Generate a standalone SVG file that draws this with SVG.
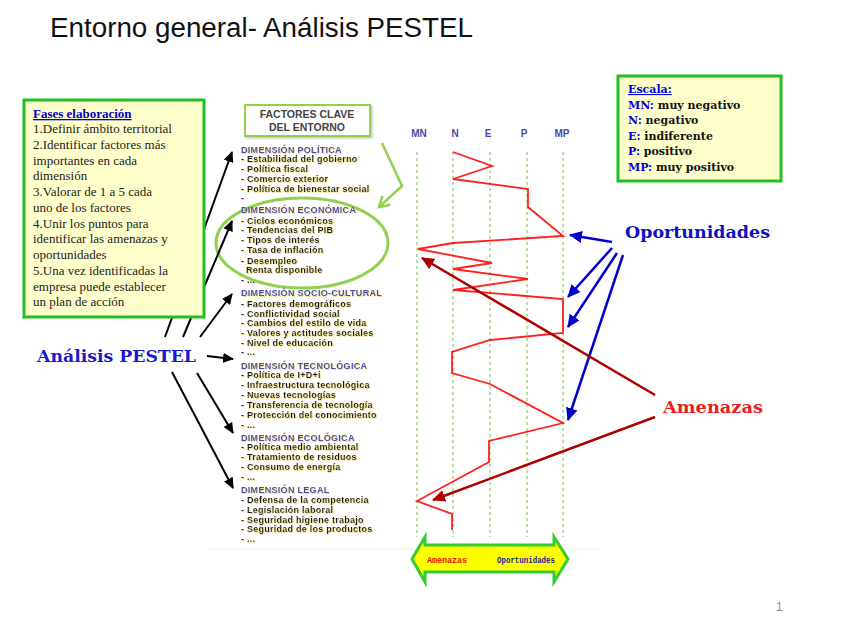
<svg xmlns="http://www.w3.org/2000/svg" width="848" height="636" viewBox="0 0 848 636">
<style>
.title{font-family:"Liberation Sans",Arial,sans-serif;font-size:27px;fill:#111}
.fases{font-family:"Liberation Serif","Times New Roman",serif;font-size:13px;fill:#222}
.fh{font-weight:bold;fill:#0000cc;text-decoration:underline}
.esc{font-family:"DejaVu Serif",serif;font-size:11px;font-weight:bold;fill:#111}
.escb{fill:#0000dd}
.dim{font-family:"Liberation Sans",Arial,sans-serif;font-size:9px;letter-spacing:0.3px;font-weight:bold;fill:#4a4aa8;filter:url(#glow)}
.it{font-family:"Liberation Sans",Arial,sans-serif;font-size:9px;letter-spacing:0.25px;font-weight:bold;fill:#1a1a1a;filter:url(#glow)}
.col{font-family:"Liberation Sans",Arial,sans-serif;font-size:10px;font-weight:bold;fill:#4a4aa8;text-anchor:middle}
.big{font-family:"DejaVu Serif",serif;font-weight:bold;font-size:17px}
.grid{stroke:#a9d18e;stroke-width:1.5;stroke-dasharray:3 3;fill:none}
.blk{stroke:#000;stroke-width:2;fill:none;marker-end:url(#hb)}
.blu{stroke:#0000cc;stroke-width:2.5;fill:none;marker-end:url(#hu)}
.drd{stroke:#b00000;stroke-width:2.5;fill:none;marker-end:url(#hr)}
.small{font-family:"Liberation Mono","Courier New",monospace;font-size:9px;font-weight:bold}
</style>
<defs>
<filter id="glow" x="-5%" y="-30%" width="110%" height="160%">
<feDropShadow dx="0.8" dy="0.8" stdDeviation="0.5" flood-color="#e6d46a" flood-opacity="0.9"/>
</filter>
<filter id="sh" x="-10%" y="-10%" width="120%" height="130%">
<feDropShadow dx="1.5" dy="1.5" stdDeviation="1" flood-color="#999" flood-opacity="0.6"/>
</filter>
<marker id="hb" markerUnits="userSpaceOnUse" markerWidth="12" markerHeight="10" refX="10" refY="5" orient="auto"><path d="M0,0 L11,5 L0,10 Z" fill="#000"/></marker>
<marker id="hu" markerUnits="userSpaceOnUse" markerWidth="14" markerHeight="12" refX="12" refY="6" orient="auto"><path d="M0,0 L13,6 L0,12 Z" fill="#0000cc"/></marker>
<marker id="hr" markerUnits="userSpaceOnUse" markerWidth="14" markerHeight="12" refX="12" refY="6" orient="auto"><path d="M0,0 L13,6 L0,12 Z" fill="#b00000"/></marker>
<marker id="hg" markerUnits="userSpaceOnUse" markerWidth="14" markerHeight="14" refX="11" refY="7" orient="auto"><path d="M1,1 L11,7 L1,13" fill="none" stroke="#92d050" stroke-width="2.5"/></marker>
</defs>
<rect width="848" height="636" fill="#fff"/>
<text class="title" x="50" y="37" textLength="423" lengthAdjust="spacingAndGlyphs">Entorno general- Análisis PESTEL</text>

<line x1="210" y1="549" x2="600" y2="549" stroke="#f3efd2" stroke-width="1"/>

<g id="grid">
<line class="grid" x1="417" y1="152" x2="417" y2="537"/>
<line class="grid" x1="453" y1="152" x2="453" y2="537"/>
<line class="grid" x1="490" y1="152" x2="490" y2="537"/>
<line class="grid" x1="527" y1="152" x2="527" y2="537"/>
<line class="grid" x1="563" y1="152" x2="563" y2="537"/>
<text class="col" x="419" y="137">MN</text>
<text class="col" x="455" y="137">N</text>
<text class="col" x="488" y="137">E</text>
<text class="col" x="524" y="137">P</text>
<text class="col" x="562" y="137">MP</text>
</g>

<g id="profile">
<polyline fill="none" stroke="#ff2020" stroke-width="1.8" stroke-linejoin="miter" points="453,152 492,166 453,179 528,189 528,207 563,236 453,243 418,249 492,263 453,269 528,279 453,290 563,299 563,333 490,340 452,352 452,373 490,384 563,423 489,441 489,462 417,501 452,514 452,530"/>
</g>

<g id="factores-clave">
<rect x="245" y="105" width="125" height="31" fill="#fff" stroke="#92d050" stroke-width="2" filter="url(#sh)"/>
<text x="307" y="118" text-anchor="middle" font-family="Liberation Sans,Arial,sans-serif" font-size="10.5" font-weight="bold" fill="#444">FACTORES CLAVE</text>
<text x="307" y="131" text-anchor="middle" font-family="Liberation Sans,Arial,sans-serif" font-size="10.5" font-weight="bold" fill="#444">DEL ENTORNO</text>
</g>

<g id="economica-ellipse">
<ellipse cx="302" cy="243" rx="86" ry="45" fill="none" stroke="#92d050" stroke-width="3"/>
</g>

<g id="dimensiones">
<text class="dim" x="241" y="153">DIMENSIÓN POLÍTICA</text>
<text class="it" x="241" y="162">- Estabilidad del gobierno</text>
<text class="it" x="241" y="172">- Política fiscal</text>
<text class="it" x="241" y="182">- Comercio exterior</text>
<text class="it" x="241" y="192">- Política de bienestar social</text>
<text class="it" x="241" y="201">-</text>
<text class="dim" x="241" y="213">DIMENSIÓN ECONÓMICA</text>
<text class="it" x="241" y="224">- Ciclos económicos</text>
<text class="it" x="241" y="233">- Tendencias del PIB</text>
<text class="it" x="241" y="243">- Tipos de interés</text>
<text class="it" x="241" y="253">- Tasa de inflación</text>
<text class="it" x="241" y="264">- Desempleo</text>
<text class="it" x="246" y="273">Renta disponible</text>
<text class="it" x="241" y="283">- ...</text>
<text class="dim" x="241" y="296">DIMENSIÓN SOCIO-CULTURAL</text>
<text class="it" x="241" y="307">- Factores demográficos</text>
<text class="it" x="241" y="317">- Conflictividad social</text>
<text class="it" x="241" y="326">- Cambios del estilo de vida</text>
<text class="it" x="241" y="336">- Valores y actitudes sociales</text>
<text class="it" x="241" y="346">- Nivel de educación</text>
<text class="it" x="241" y="355">- ...</text>
<text class="dim" x="241" y="369">DIMENSIÓN TECNOLÓGICA</text>
<text class="it" x="241" y="378">- Política de I+D+i</text>
<text class="it" x="241" y="388">- Infraestructura tecnológica</text>
<text class="it" x="241" y="398">- Nuevas tecnologías</text>
<text class="it" x="241" y="408">- Transferencia de tecnología</text>
<text class="it" x="241" y="418">- Protección del conocimiento</text>
<text class="it" x="241" y="428">- ...</text>
<text class="dim" x="241" y="441">DIMENSIÓN ECOLÓGICA</text>
<text class="it" x="241" y="450">- Política medio ambiental</text>
<text class="it" x="241" y="460">- Tratamiento de residuos</text>
<text class="it" x="241" y="470">- Consumo de energía</text>
<text class="it" x="241" y="480">- ...</text>
<text class="dim" x="241" y="493">DIMENSIÓN LEGAL</text>
<text class="it" x="241" y="503">- Defensa de la competencia</text>
<text class="it" x="241" y="513">- Legislación laboral</text>
<text class="it" x="241" y="523">- Seguridad higiene trabajo</text>
<text class="it" x="241" y="532">- Seguridad de los productos</text>
<text class="it" x="241" y="542">- ...</text>
</g>

<g id="connectors">
<polyline points="382,143 402,186 379,207" fill="none" stroke="#92d050" stroke-width="2.5" marker-end="url(#hg)"/>
<line class="blk" x1="165" y1="337" x2="232" y2="152"/>
<line class="blk" x1="183" y1="337" x2="232" y2="221"/>
<line class="blk" x1="200" y1="337" x2="232" y2="294"/>
<line class="blk" x1="207" y1="356" x2="233" y2="359"/>
<line class="blk" x1="197" y1="373" x2="233" y2="433"/>
<line class="blk" x1="172" y1="372" x2="233" y2="488"/>
<line class="blu" x1="612" y1="242" x2="570" y2="235"/>
<line class="blu" x1="612" y1="248" x2="568" y2="297"/>
<line class="blu" x1="617" y1="253" x2="568" y2="327"/>
<line class="blu" x1="623" y1="255" x2="568" y2="420"/>
<line class="drd" x1="655" y1="395" x2="422" y2="258"/>
<line class="drd" x1="655" y1="417" x2="433" y2="500"/>
</g>

<g id="fases">
<rect x="24" y="100" width="180" height="217" fill="#ffffcc" stroke="#22c022" stroke-width="3"/>
<text class="fases" x="33" y="118"><tspan class="fh">Fases elaboración</tspan></text>
<text class="fases" x="33" y="133">1.Definir ámbito territorial</text>
<text class="fases" x="33" y="149">2.Identificar factores más</text>
<text class="fases" x="33" y="165">importantes en cada</text>
<text class="fases" x="33" y="180">dimensión</text>
<text class="fases" x="33" y="196">3.Valorar de 1 a 5 cada</text>
<text class="fases" x="33" y="212">uno de los factores</text>
<text class="fases" x="33" y="228">4.Unir los puntos para</text>
<text class="fases" x="33" y="243">identificar las amenazas y</text>
<text class="fases" x="33" y="259">oportunidades</text>
<text class="fases" x="33" y="275">5.Una vez identificadas la</text>
<text class="fases" x="33" y="291">empresa puede establecer</text>
<text class="fases" x="33" y="306">un plan de acción</text>
</g>

<g id="escala">
<rect x="618" y="76" width="163" height="105" fill="#ffffcc" stroke="#22c022" stroke-width="3"/>
<text class="esc" x="628" y="93"><tspan class="escb" text-decoration="underline">Escala:</tspan></text>
<text class="esc" x="628" y="109"><tspan class="escb">MN:</tspan> muy negativo</text>
<text class="esc" x="628" y="124"><tspan class="escb">N:</tspan> negativo</text>
<text class="esc" x="628" y="140"><tspan class="escb">E:</tspan> indiferente</text>
<text class="esc" x="628" y="155"><tspan class="escb">P:</tspan> positivo</text>
<text class="esc" x="628" y="171"><tspan class="escb">MP:</tspan> muy positivo</text>
</g>

<g id="pestel">
<text class="big" x="37" y="362" fill="#1a1acc" textLength="159" lengthAdjust="spacingAndGlyphs">Análisis PESTEL</text>
</g>
<g id="oportunidades">
<text class="big" x="625" y="238" fill="#1010c0" textLength="145" lengthAdjust="spacingAndGlyphs">Oportunidades</text>
</g>
<g id="amenazas">
<text class="big" x="663" y="413" fill="#ee1c1c" textLength="100" lengthAdjust="spacingAndGlyphs">Amenazas</text>
</g>

<g id="escala-arrow">
<path d="M412,559 L425,537 L425,545 L554,545 L554,537 L568,559 L554,582 L554,572 L425,572 L425,582 Z" fill="#ffff00" stroke="#33cc33" stroke-width="3" stroke-linejoin="miter"/>
<text class="small" x="427" y="563" fill="#ee1111" textLength="40" lengthAdjust="spacingAndGlyphs">Amenazas</text>
<text class="small" x="497" y="563" fill="#1a1a99" textLength="58" lengthAdjust="spacingAndGlyphs">Oportunidades</text>
</g>

<text x="776" y="611" font-family="Liberation Sans,Arial,sans-serif" font-size="12" fill="#888">1</text>
</svg>
